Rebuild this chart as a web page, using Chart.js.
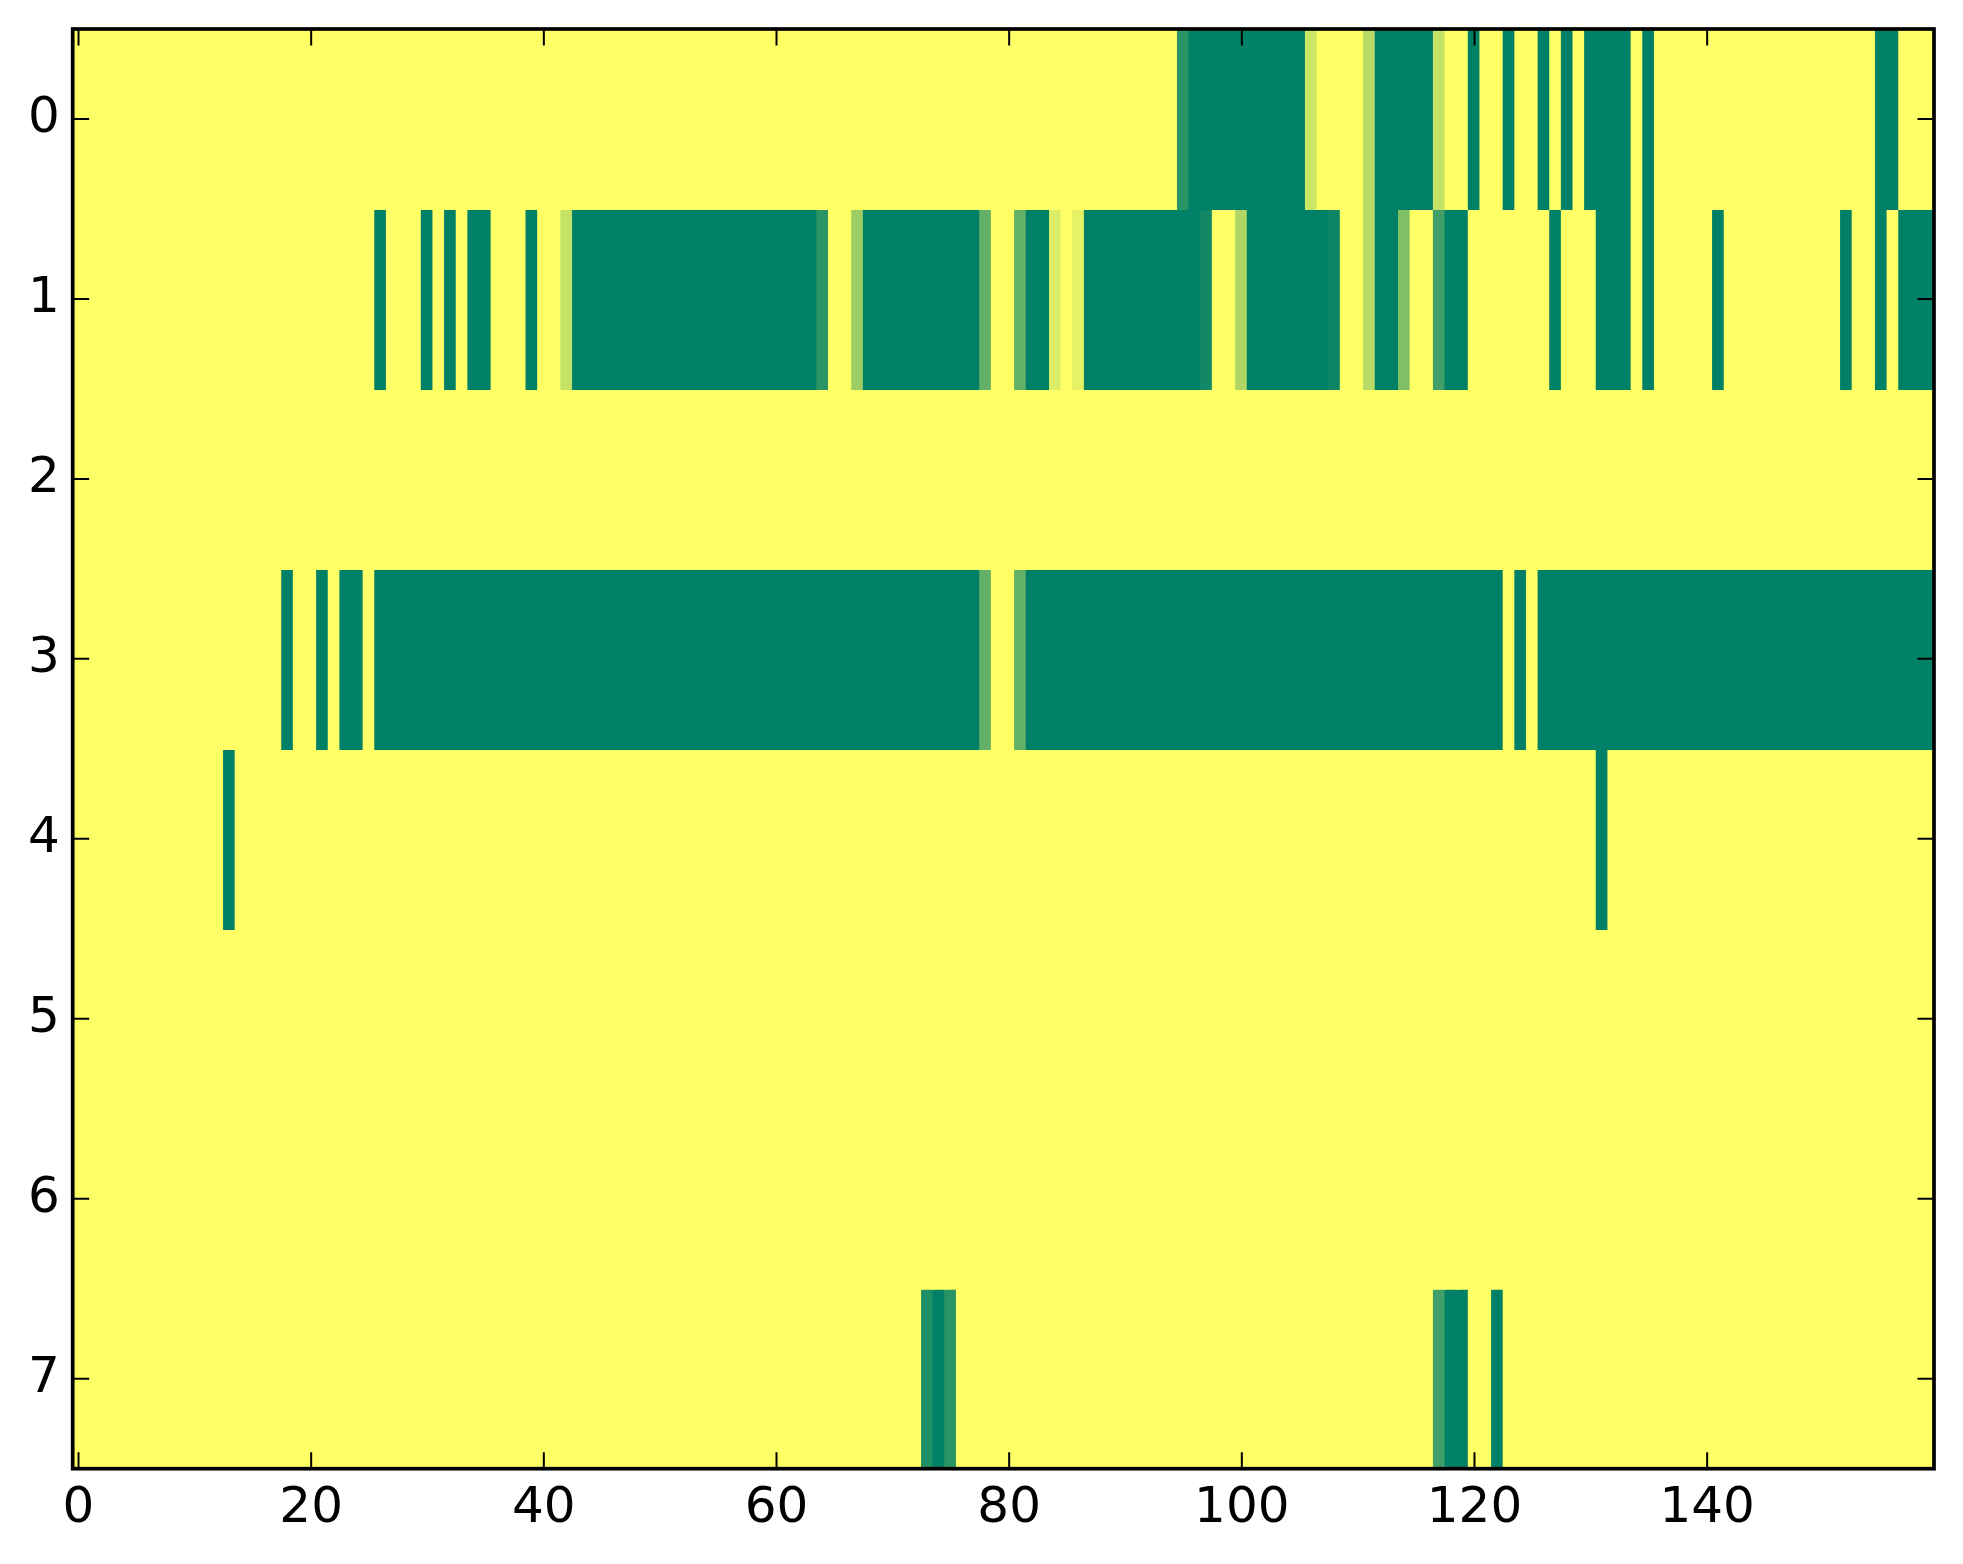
<!DOCTYPE html>
<html>
<head>
<meta charset="utf-8">
<title>Heatmap</title>
<script src="https://cdn.jsdelivr.net/npm/chart.js@4.4.1/dist/chart.umd.min.js"></script>
<style>
  html, body { margin: 0; padding: 0; background: #fff; }
  canvas { display: block; }
</style>
</head>
<body>
<canvas id="heatmap" width="1963" height="1564"></canvas>
<script>
// cell values, one array per row (160 columns each); 0 = yellow, 1 = dark green
const row0 = [
  0,0,0,0,0,0,0,0,0,0,0,0,0,0,0,0,0,0,0,0,
  0,0,0,0,0,0,0,0,0,0,0,0,0,0,0,0,0,0,0,0,
  0,0,0,0,0,0,0,0,0,0,0,0,0,0,0,0,0,0,0,0,
  0,0,0,0,0,0,0,0,0,0,0,0,0,0,0,0,0,0,0,0,
  0,0,0,0,0,0,0,0,0,0,0,0,0,0,0,0.84,1,1,1,1,
  1,1,1,1,1,1,0.2,0,0,0,0,0.28,1,1,1,1,1,0.23,0,0,
  1,0,0,1,0,0,1,0,1,0,1,1,1,1,0,1,0,0,0,0,
  0,0,0,0,0,0,0,0,0,0,0,0,0,0,0,1,1,0,0,0
];
const row1 = [
  0,0,0,0,0,0,0,0,0,0,0,0,0,0,0,0,0,0,0,0,
  0,0,0,0,0,0,1,0,0,0,1,0,1,0,1,1,0,0,0,1,
  0,0,0.23,1,1,1,1,1,1,1,1,1,1,1,1,1,1,1,1,1,
  1,1,1,1,0.84,0,0,0.39,1,1,1,1,1,1,1,1,1,1,0.61,0,
  0,0.61,1,1,0.14,0,0.1,1,1,1,1,1,1,1,1,1,1,0.93,0,0,
  0.31,1,1,1,1,1,1,1,0.95,0,0,0.28,1,1,0.5,0,0,0.75,1,1,
  0,0,0,0,0,0,0,1,0,0,0,1,1,1,0,1,0,0,0,0,
  0,1,0,0,0,0,0,0,0,0,0,0,1,0,0,1,0,1,1,1
];
const row2 = [
  0,0,0,0,0,0,0,0,0,0,0,0,0,0,0,0,0,0,0,0,
  0,0,0,0,0,0,0,0,0,0,0,0,0,0,0,0,0,0,0,0,
  0,0,0,0,0,0,0,0,0,0,0,0,0,0,0,0,0,0,0,0,
  0,0,0,0,0,0,0,0,0,0,0,0,0,0,0,0,0,0,0,0,
  0,0,0,0,0,0,0,0,0,0,0,0,0,0,0,0,0,0,0,0,
  0,0,0,0,0,0,0,0,0,0,0,0,0,0,0,0,0,0,0,0,
  0,0,0,0,0,0,0,0,0,0,0,0,0,0,0,0,0,0,0,0,
  0,0,0,0,0,0,0,0,0,0,0,0,0,0,0,0,0,0,0,0
];
const row3 = [
  0,0,0,0,0,0,0,0,0,0,0,0,0,0,0,0,0,0,1,0,
  0,1,0,1,1,0,1,1,1,1,1,1,1,1,1,1,1,1,1,1,
  1,1,1,1,1,1,1,1,1,1,1,1,1,1,1,1,1,1,1,1,
  1,1,1,1,1,1,1,1,1,1,1,1,1,1,1,1,1,1,0.61,0,
  0,0.61,1,1,1,1,1,1,1,1,1,1,1,1,1,1,1,1,1,1,
  1,1,1,1,1,1,1,1,1,1,1,1,1,1,1,1,1,1,1,1,
  1,1,1,0,1,0,1,1,1,1,1,1,1,1,1,1,1,1,1,1,
  1,1,1,1,1,1,1,1,1,1,1,1,1,1,1,1,1,1,1,1
];
const row4 = [
  0,0,0,0,0,0,0,0,0,0,0,0,0,1,0,0,0,0,0,0,
  0,0,0,0,0,0,0,0,0,0,0,0,0,0,0,0,0,0,0,0,
  0,0,0,0,0,0,0,0,0,0,0,0,0,0,0,0,0,0,0,0,
  0,0,0,0,0,0,0,0,0,0,0,0,0,0,0,0,0,0,0,0,
  0,0,0,0,0,0,0,0,0,0,0,0,0,0,0,0,0,0,0,0,
  0,0,0,0,0,0,0,0,0,0,0,0,0,0,0,0,0,0,0,0,
  0,0,0,0,0,0,0,0,0,0,0,1,0,0,0,0,0,0,0,0,
  0,0,0,0,0,0,0,0,0,0,0,0,0,0,0,0,0,0,0,0
];
const row5 = [
  0,0,0,0,0,0,0,0,0,0,0,0,0,0,0,0,0,0,0,0,
  0,0,0,0,0,0,0,0,0,0,0,0,0,0,0,0,0,0,0,0,
  0,0,0,0,0,0,0,0,0,0,0,0,0,0,0,0,0,0,0,0,
  0,0,0,0,0,0,0,0,0,0,0,0,0,0,0,0,0,0,0,0,
  0,0,0,0,0,0,0,0,0,0,0,0,0,0,0,0,0,0,0,0,
  0,0,0,0,0,0,0,0,0,0,0,0,0,0,0,0,0,0,0,0,
  0,0,0,0,0,0,0,0,0,0,0,0,0,0,0,0,0,0,0,0,
  0,0,0,0,0,0,0,0,0,0,0,0,0,0,0,0,0,0,0,0
];
const row6 = [
  0,0,0,0,0,0,0,0,0,0,0,0,0,0,0,0,0,0,0,0,
  0,0,0,0,0,0,0,0,0,0,0,0,0,0,0,0,0,0,0,0,
  0,0,0,0,0,0,0,0,0,0,0,0,0,0,0,0,0,0,0,0,
  0,0,0,0,0,0,0,0,0,0,0,0,0,0,0,0,0,0,0,0,
  0,0,0,0,0,0,0,0,0,0,0,0,0,0,0,0,0,0,0,0,
  0,0,0,0,0,0,0,0,0,0,0,0,0,0,0,0,0,0,0,0,
  0,0,0,0,0,0,0,0,0,0,0,0,0,0,0,0,0,0,0,0,
  0,0,0,0,0,0,0,0,0,0,0,0,0,0,0,0,0,0,0,0
];
const row7 = [
  0,0,0,0,0,0,0,0,0,0,0,0,0,0,0,0,0,0,0,0,
  0,0,0,0,0,0,0,0,0,0,0,0,0,0,0,0,0,0,0,0,
  0,0,0,0,0,0,0,0,0,0,0,0,0,0,0,0,0,0,0,0,
  0,0,0,0,0,0,0,0,0,0,0,0,0,0.88,1,0.84,0,0,0,0,
  0,0,0,0,0,0,0,0,0,0,0,0,0,0,0,0,0,0,0,0,
  0,0,0,0,0,0,0,0,0,0,0,0,0,0,0,0,0,0.75,1,1,
  0,0,1,0,0,0,0,0,0,0,0,0,0,0,0,0,0,0,0,0,
  0,0,0,0,0,0,0,0,0,0,0,0,0,0,0,0,0,0,0,0
];

const rows = [row0, row1, row2, row3, row4, row5, row6, row7];
const xTicks = [0, 20, 40, 60, 80, 100, 120, 140];
const yTicks = [0, 1, 2, 3, 4, 5, 6, 7];

// matplotlib "summer" colormap, reversed so 0 -> yellow and 1 -> green
function summerColor(v) {
    const t = 1 - v;
    return `rgb(${Math.round(255 * t)}, ${Math.round(255 * (0.5 + 0.5 * t))}, 102)`;
}

// each row is one dataset of floating bars, one bar per cell
// (bars overlap their neighbours by a hair so no seams show)
const datasets = rows.map((vals, r) => ({
    data: vals.map((v, c) => ({ x: c, y: [r - 0.506, r + 0.506] })),
    backgroundColor: vals.map(summerColor),
    borderWidth: 0,
    grouped: false,
    barPercentage: 1.15,
    categoryPercentage: 1
}));

// matplotlib style box with inward ticks on all four sides
const frameAndTicks = {
    id: 'frameAndTicks',
    afterDatasetsDraw(chart) {
        const { ctx, chartArea: a, scales: { x, y } } = chart;
        const len = 16.5;
        ctx.save();
        ctx.strokeStyle = '#000';
        ctx.lineWidth = 2;
        ctx.beginPath();
        x.ticks.forEach(t => {
            const px = x.getPixelForValue(t.value);
            ctx.moveTo(px, a.bottom);
            ctx.lineTo(px, a.bottom - len);
            ctx.moveTo(px, a.top);
            ctx.lineTo(px, a.top + len);
        });
        y.ticks.forEach(t => {
            const py = y.getPixelForValue(t.value);
            ctx.moveTo(a.left, py);
            ctx.lineTo(a.left + len, py);
            ctx.moveTo(a.right, py);
            ctx.lineTo(a.right - len, py);
        });
        ctx.stroke();
        ctx.lineWidth = 3.7;
        ctx.strokeRect(a.left, a.top, a.right - a.left, a.bottom - a.top);
        ctx.restore();
    }
};

const tickFont = { family: 'DejaVu Sans', size: 50 };

// pin the axis boxes so the plot area lands where the original has it
function fitX(s) {
    s.height = 95.3;
    s.paddingLeft = 0;
    s.paddingRight = 0;
}
function fitY(s) {
    s.width = 72.7;
    s.paddingTop = 0;
    s.paddingBottom = 0;
}

new Chart(document.getElementById('heatmap'), {
    type: 'bar',
    data: { datasets: datasets },
    options: {
        responsive: false,
        animation: false,
        devicePixelRatio: 1,
        layout: { padding: { top: 29, right: 29, left: 0, bottom: 0 } },
        plugins: {
            legend: { display: false },
            tooltip: { enabled: false }
        },
        scales: {
            x: {
                type: 'linear',
                offset: false,
                min: -0.5,
                max: 159.5,
                afterBuildTicks: s => { s.ticks = xTicks.map(v => ({ value: v })); },
                afterFit: fitX,
                grid: { display: false, drawTicks: false, offset: false },
                border: { display: false },
                ticks: { font: tickFont, color: '#000', padding: 10, maxRotation: 0, autoSkip: false }
            },
            y: {
                type: 'linear',
                min: -0.5,
                max: 7.5,
                reverse: true,
                afterBuildTicks: s => { s.ticks = yTicks.map(v => ({ value: v })); },
                afterFit: fitY,
                grid: { display: false, drawTicks: false },
                border: { display: false },
                ticks: { font: tickFont, color: '#000', padding: 13 }
            }
        }
    },
    plugins: [frameAndTicks]
});
</script>
</body>
</html>
